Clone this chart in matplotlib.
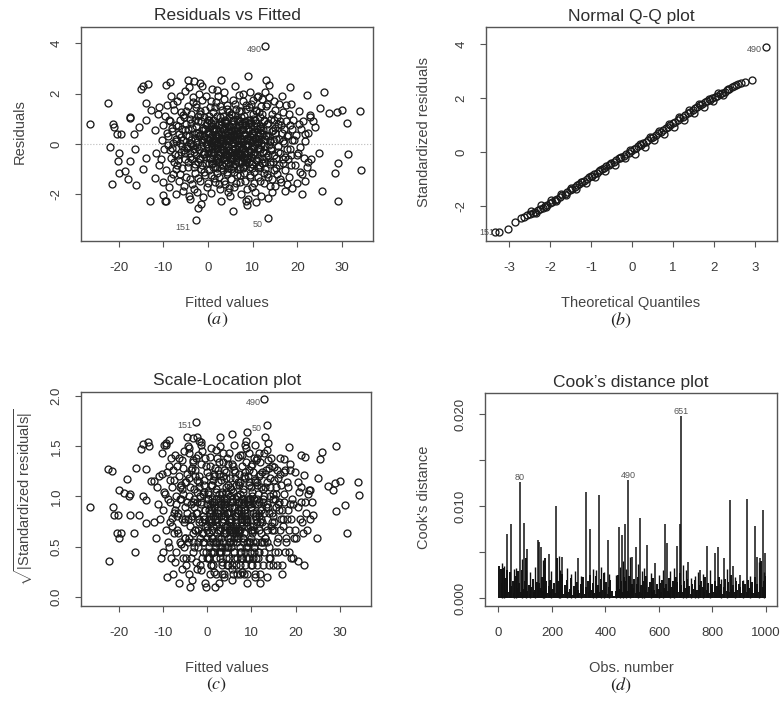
import numpy as np
import matplotlib

matplotlib.use("Agg")
import matplotlib.pyplot as plt

W, H = 782, 707

plt.rcParams.update(
    {
        "font.family": ["Liberation Sans", "DejaVu Sans"],
        "axes.unicode_minus": False,
        "mathtext.fontset": "custom",
        "mathtext.rm": "Liberation Sans",
        "mathtext.it": "Liberation Sans:italic",
        "axes.edgecolor": "#555555",
        "axes.linewidth": 1.0,
        "xtick.color": "#555555",
        "ytick.color": "#555555",
        "xtick.labelcolor": "#3a3a3a",
        "ytick.labelcolor": "#3a3a3a",
        "xtick.labelsize": 9.5,
        "ytick.labelsize": 9.5,
        "xtick.major.size": 4.3,
        "ytick.major.size": 4.3,
        "xtick.major.pad": 11,
        "ytick.major.pad": 9,
    }
)

# ---- residuals vs fitted: sparse points read one by one
fit_outer = [-26.4, -22.5, -22.1, -21.6, -21.3, -21.0, -20.2, -19.9, -20.4, -19.5,
             -19.9, -18.7, -17.6, -17.4, -17.5, -18.0, -16.3, -16.1, -16.5, -15.5,
             -15.0, -14.5, -13.9, -13.4, -13.1, -14.6, -13.9, -13.9, -12.7, -12.0,
             -10.1, -9.7, -9.4, -9.4, -8.6, -4.5, -3.2, -1.9, -4.1, -2.2,
             -1.5, 2.8, 9.0, 5.6, 8.6, 8.7, 13.1, 13.4, 15.0, 17.3,
             18.4, 18.8, 22.2, 21.1, 21.8, 22.9, 23.3, 24.0, 24.8, 25.1,
             25.5, 25.9, 27.2, 28.5, 28.9, 29.2, 29.2, 30.0, 31.1, 31.5,
             34.0, 34.4, 20.6]
res_outer = [0.81, 1.61, -0.13, -1.58, 0.81, 0.67, -0.67, -0.34, 0.40, 0.40,
             -1.14, -1.07, 1.01, 1.05, -0.67, -1.38, -0.20, -1.64, 0.40, 0.67,
             2.17, 2.31, 1.61, 2.38, -2.26, -1.00, -0.54, 0.94, 1.34, -1.34,
             -2.04, -2.28, -2.28, 2.35, 2.44, 2.55, 2.51, 2.42, -2.19, -2.55,
             -2.39, 2.55, 2.68, -2.64, -2.28, -2.42, 2.55, -2.15, -1.68, -1.88,
             2.24, -1.74, 1.95, -1.99, -1.48, 1.14, -1.14, 0.67, -0.34, 1.41,
             -1.88, 2.08, 1.21, -1.14, 1.28, -0.74, -2.26, 1.34, 0.83, -0.40,
             1.32, -1.03, -0.13]

# dense core, estimated column by column (one row per unit of fitted value)
fit_core = [
    [-11.9, -11.6, -11.3, -11.1],
    [-10.9, -10.6, -10.4, -10.2, -10.05],
    [-9.9, -9.7, -9.5, -9.3, -9.15, -9.05],
    [-8.95, -8.7, -8.5, -8.35, -8.2, -8.1, -8.02],
    [-7.95, -7.8, -7.6, -7.45, -7.3, -7.2, -7.1, -7.02],
    [-6.9, -6.75, -6.6, -6.45, -6.3, -6.2, -6.1, -6.02],
    [-5.95, -5.8, -5.7, -5.55, -5.4, -5.3, -5.2, -5.1, -5.02],
    [-4.95, -4.85, -4.7, -4.55, -4.45, -4.3, -4.2, -4.1, -4.05, -4.01],
    [-3.95, -3.85, -3.75, -3.6, -3.5, -3.4, -3.3, -3.2, -3.15, -3.1, -3.02],
    [-2.95, -2.9, -2.8, -2.7, -2.6, -2.5, -2.4, -2.3, -2.2, -2.15, -2.1, -2.03],
    [-1.95, -1.85, -1.8, -1.7, -1.6, -1.5, -1.4, -1.3, -1.25, -1.15, -1.1, -1.02],
    [-0.95, -0.9, -0.8, -0.7, -0.65, -0.55, -0.45, -0.4, -0.3, -0.2, -0.15, -0.1, -0.03],
    [0.05, 0.1, 0.2, 0.3, 0.35, 0.45, 0.55, 0.6, 0.7, 0.8, 0.85, 0.9, 0.98],
    [1.02, 1.1, 1.2, 1.25, 1.35, 1.45, 1.5, 1.6, 1.7, 1.75, 1.85, 1.9, 1.97],
    [2.05, 2.1, 2.2, 2.3, 2.35, 2.45, 2.5, 2.6, 2.7, 2.75, 2.85, 2.9, 2.97],
    [3.02, 3.1, 3.2, 3.25, 3.35, 3.45, 3.5, 3.6, 3.7, 3.75, 3.85, 3.9, 3.98],
    [4.02, 4.1, 4.15, 4.25, 4.3, 4.4, 4.5, 4.55, 4.65, 4.7, 4.8, 4.85, 4.9, 4.97],
    [5.02, 5.1, 5.15, 5.25, 5.3, 5.4, 5.5, 5.55, 5.65, 5.7, 5.8, 5.85, 5.9, 5.97],
    [6.02, 6.1, 6.15, 6.25, 6.3, 6.4, 6.5, 6.55, 6.65, 6.7, 6.8, 6.85, 6.9, 6.97],
    [7.02, 7.1, 7.15, 7.25, 7.3, 7.4, 7.5, 7.55, 7.65, 7.7, 7.8, 7.85, 7.9, 7.97],
    [8.02, 8.1, 8.2, 8.25, 8.35, 8.45, 8.5, 8.6, 8.7, 8.75, 8.85, 8.9, 8.98],
    [9.02, 9.1, 9.2, 9.25, 9.35, 9.45, 9.5, 9.6, 9.7, 9.75, 9.85, 9.9, 9.98],
    [10.05, 10.15, 10.2, 10.3, 10.4, 10.5, 10.55, 10.65, 10.75, 10.8, 10.9, 10.97],
    [11.05, 11.15, 11.2, 11.3, 11.4, 11.5, 11.55, 11.65, 11.75, 11.8, 11.9, 11.97],
    [12.05, 12.15, 12.25, 12.35, 12.45, 12.55, 12.65, 12.75, 12.85, 12.9, 12.97],
    [13.05, 13.15, 13.25, 13.4, 13.5, 13.6, 13.7, 13.8, 13.9, 13.97],
    [14.05, 14.2, 14.3, 14.45, 14.55, 14.7, 14.8, 14.9, 14.97],
    [15.05, 15.2, 15.35, 15.5, 15.6, 15.75, 15.85, 15.95],
    [16.1, 16.25, 16.4, 16.55, 16.7, 16.85, 16.95],
    [17.1, 17.3, 17.45, 17.6, 17.8, 17.95],
    [18.1, 18.3, 18.55, 18.7, 18.9],
    [19.15, 19.4, 19.65, 19.9],
    [20.1, 20.4, 20.7, 20.9],
    [21.2, 21.5, 21.8],
    [22.1, 22.5, 22.8],
    [23.2, 23.6],
]
res_core = [
    [0.55, -0.35, 1.2, -0.85],
    [1.45, -0.6, 0.15, -1.5, 0.75],
    [-0.2, 1.1, -1.05, 0.45, 1.55, -0.04],
    [0.3, -1.7, 0.9, -0.55, 1.9, -0.15, 0.62],
    [-1.2, 0.05, 1.35, -0.4, 0.75, -2.0, 0.2, -0.85],
    [1.7, -0.65, 0.4, -1.45, 0.02, 0.95, -0.3, 1.25],
    [-0.95, 0.6, -1.85, 0.15, 1.05, -0.25, 2.1, -0.6, 0.35],
    [0.8, -1.3, -0.1, 1.5, -0.7, 0.3, -2.05, 1.0, -0.35, 0.05],
    [-0.5, 1.2, 0.15, -1.6, 0.65, -0.03, 1.85, -0.9, 0.4, -0.2, 0.95],
    [0.25, -1.15, 1.6, -0.45, 0.7, -1.9, 0.08, 1.1, -0.7, 0.45, -0.25, 2.0],
    [-0.6, 1.3, -1.45, 0.35, -0.1, 0.9, -0.85, 1.75, 0.15, -2.1, 0.55, -0.3],
    [1.05, -0.4, 0.3, -1.25, 0.6, -0.02, 1.9, -0.75, 0.2, -1.7, 0.85, -0.15, 0.45],
    [-0.35, 0.95, -1.05, 0.15, 1.45, -0.55, 0.05, -1.95, 0.7, -0.2, 2.2, -0.8, 0.35],
    [0.55, -0.9, 1.25, -0.3, 0.1, -1.5, 0.8, -0.06, 1.65, -0.65, 0.3, -1.15, 2.15],
    [-0.15, 1.1, -0.7, 0.4, -1.3, 0.75, -0.45, 1.5, 0.02, -1.8, 0.25, 0.9, -0.95],
    [0.65, -0.2, 1.35, -1.05, 0.12, -0.55, 1.8, -0.3, 0.9, -1.6, 0.4, -0.04, -0.8],
    [-0.45, 0.85, -1.2, 0.2, 1.55, -0.7, 0.5, -0.1, -1.75, 1.05, -0.35, 0.3, -2.05, 0.7],
    [0.15, -0.6, 1.2, -1.4, 0.55, -0.25, 1.75, -0.9, 0.03, 0.95, -0.45, -1.1, 0.4, 2.3],
    [-0.8, 0.35, -0.2, 1.4, -1.55, 0.65, -0.5, 0.1, 1.0, -1.0, -0.05, 1.95, -0.35, 0.75],
    [0.45, -1.25, 0.9, -0.4, 0.2, -2.0, 1.3, -0.7, 0.6, -0.15, 1.7, -0.95, 0.06, -0.55],
    [-0.3, 1.1, -0.85, 0.4, -1.45, 0.75, -0.1, 1.55, -0.6, 0.15, -2.2, 0.95, -0.02],
    [0.6, -0.7, 1.45, -0.25, 0.3, -1.3, 2.05, -0.5, 0.85, -0.95, 0.1, -1.7, 1.2],
    [-0.4, 1.75, -1.1, 0.5, -0.15, 0.95, -1.9, 0.25, 1.3, -0.65, 0.04, 1.85],
    [0.7, -0.55, 1.9, -1.3, 0.2, -0.85, 1.05, -0.2, 0.45, -2.05, 1.5, -0.05],
    [-0.75, 1.2, -0.3, 0.55, -1.55, 0.9, -0.1, 2.05, -1.0, 0.3, -0.5],
    [0.35, -1.2, 1.6, -0.45, 0.85, -0.04, 2.35, -0.8, 0.15, -1.65],
    [-0.25, 1.0, -1.4, 0.5, -0.7, 1.7, 0.1, -1.05, 0.65],
    [1.35, -0.55, 0.2, -1.2, 0.8, -0.1, 1.6, -0.85],
    [-0.35, 0.9, -1.5, 0.45, 1.25, -0.75, 0.05],
    [0.6, -1.05, 1.55, -0.2, 0.3, -0.6],
    [-1.3, 0.75, -0.45, 1.6, 0.15],
    [0.95, -0.85, 0.35, -1.55],
    [-0.35, 1.3, -1.1, 0.6],
    [0.9, -0.55, 0.1],
    [-0.9, 0.45, 1.05],
    [-0.6, 0.9],
]

# second pass over the dark middle of the cloud (two units of fitted value per row)
fit_mid = [
    [-8.85, -8.6, -8.3, -8.05, -7.8, -7.55, -7.3, -7.1],
    [-6.85, -6.65, -6.4, -6.2, -6.0, -5.8, -5.6, -5.45, -5.25, -5.1],
    [-4.9, -4.75, -4.6, -4.4, -4.25, -4.1, -3.9, -3.75, -3.55, -3.4, -3.25, -3.1],
    [-2.9, -2.75, -2.65, -2.45, -2.35, -2.2, -2.05, -1.9, -1.75, -1.6, -1.45, -1.35, -1.2, -1.05],
    [-0.9, -0.8, -0.65, -0.5, -0.4, -0.25, -0.1, 0.05, 0.15, 0.3, 0.4, 0.55, 0.65, 0.75, 0.85, 0.95],
    [1.05, 1.15, 1.3, 1.4, 1.55, 1.65, 1.8, 1.9, 2.05, 2.15, 2.25, 2.4, 2.5, 2.6, 2.7, 2.8, 2.9, 2.95],
    [3.05, 3.15, 3.25, 3.35, 3.45, 3.55, 3.65, 3.75, 3.85, 3.95,
     4.05, 4.15, 4.25, 4.35, 4.45, 4.55, 4.65, 4.75, 4.85, 4.95],
    [5.05, 5.15, 5.25, 5.35, 5.45, 5.55, 5.65, 5.75, 5.85, 5.95,
     6.05, 6.15, 6.25, 6.35, 6.45, 6.55, 6.65, 6.75, 6.85, 6.95],
    [7.05, 7.15, 7.25, 7.35, 7.45, 7.55, 7.65, 7.75, 7.85, 7.95,
     8.05, 8.15, 8.25, 8.35, 8.45, 8.55, 8.65, 8.75, 8.85, 8.95],
    [9.05, 9.15, 9.3, 9.4, 9.55, 9.65, 9.8, 9.9, 10.05, 10.15,
     10.25, 10.4, 10.5, 10.6, 10.7, 10.8, 10.9, 10.95],
    [11.1, 11.25, 11.35, 11.5, 11.6, 11.75, 11.85, 12.0, 12.1, 12.25,
     12.35, 12.5, 12.6, 12.75, 12.85, 12.95],
    [13.1, 13.25, 13.4, 13.55, 13.7, 13.85, 14.0, 14.15, 14.3, 14.45, 14.6, 14.75, 14.9],
    [15.1, 15.3, 15.5, 15.7, 15.9, 16.1, 16.3, 16.5, 16.7, 16.9],
    [17.15, 17.4, 17.65, 17.9, 18.15, 18.4, 18.65, 18.9],
    [19.3, 19.9, 20.5, 21.1, 21.7, 22.4],
]
res_mid = [
    [0.95, -0.25, -1.35, 0.5, 1.6, -0.7, 0.12, -1.0],
    [-0.45, 0.7, 1.9, -1.2, 0.28, -0.08, 1.15, -1.65, 0.55, -0.35],
    [1.3, -0.15, -0.9, 0.6, 2.25, -1.4, 0.01, 0.85, -0.6, 1.65, -0.3, -1.8],
    [-0.8, 0.45, 1.45, -0.12, -1.35, 0.9, 0.3, -0.55, 1.2, -1.0, 0.07, 2.3, -0.4, 0.65],
    [0.2, -1.1, 1.35, -0.5, 0.75, -0.01, -1.55, 0.5, 1.1, -0.75, 0.25, -0.3, 1.7, -1.25, 0.6, -0.1],
    [-0.45, 0.95, 0.2, -1.35, 1.45, -0.2, 0.6, -0.95, 0.05, 1.9, -0.6, 0.35, -1.6, 1.05, -0.3, 0.75, -2.25, 0.15],
    [0.35, -0.85, 1.1, -0.25, 0.55, -1.45, 2.05, -0.05, 0.85, -0.65,
     0.25, 1.4, -1.1, -0.4, 0.7, -1.9, 0.1, 1.25, -0.55, 0.45],
    [-0.3, 0.5, -1.0, 1.15, -0.6, 0.08, 0.8, -1.7, 0.3, -0.15,
     1.6, -0.8, 0.45, -0.45, -1.25, 0.95, 0.15, -0.35, 1.3, -0.7],
    [0.75, -0.45, -1.5, 0.25, 1.05, -0.2, 0.55, -0.9, 2.0, -0.5,
     0.35, -1.15, 0.9, -0.05, 1.4, -0.65, 0.2, -1.8, 0.6, -0.3],
    [-0.55, 0.85, 0.15, -1.25, 1.6, -0.3, 0.45, -0.8, 1.0, -0.1,
     -1.55, 0.7, 0.25, -0.45, 1.35, -2.3, 0.05, 0.6],
    [0.3, -0.95, 1.25, -0.15, 0.65, -1.45, 0.02, 1.8, -0.6, 0.4,
     -0.3, 0.95, -1.15, 0.2, -0.7, 1.5],
    [-0.35, 0.8, -1.3, 0.3, 1.85, -0.7, 0.1, -0.15, 1.2, -1.9, 0.55, -0.45, 0.95],
    [0.45, -0.95, 1.05, -0.3, 0.2, -1.4, 0.75, 1.9, -0.6, 0.1],
    [-0.5, 0.9, -1.6, 0.35, 1.2, -0.2, -0.85, 0.6],
    [0.15, -0.45, 0.8, -1.2, 0.4, -0.7],
]

# blackest patch, fitted 0..12 and residual within +-1
fit_dense = [
    [0.1, 0.3, 0.5, 0.7, 0.9, 1.1, 1.3, 1.5, 1.7, 1.9, 0.2, 0.8, 1.4, 1.8],
    [2.1, 2.3, 2.5, 2.7, 2.9, 3.1, 3.3, 3.5, 3.7, 3.9, 2.4, 2.8, 3.4, 3.8],
    [4.1, 4.3, 4.5, 4.7, 4.9, 5.1, 5.3, 5.5, 5.7, 5.9, 4.4, 4.8, 5.4, 5.8],
    [6.1, 6.3, 6.5, 6.7, 6.9, 7.1, 7.3, 7.5, 7.7, 7.9, 6.4, 6.8, 7.4, 7.8],
    [8.1, 8.3, 8.5, 8.7, 8.9, 9.1, 9.3, 9.5, 9.7, 9.9, 8.4, 8.8, 9.4, 9.8],
    [10.1, 10.4, 10.7, 11.0, 11.3, 11.6, 11.9, 10.5, 11.1, 11.7],
]
res_dense = [
    [-0.15, 0.4, -0.6, 0.85, 0.1, -0.35, 0.65, -0.9, 0.25, -0.5, 0.95, -0.75, 0.5, 0.01],
    [0.3, -0.55, 0.8, -0.2, 0.45, -0.85, 0.05, 0.6, -0.4, 0.95, -0.7, 0.2, -0.1, 0.7],
    [-0.5, 0.15, -0.25, 0.7, -0.8, 0.35, -0.6, 0.9, -0.1, 0.5, -0.95, 0.25, -0.45, 0.05],
    [0.2, -0.65, 0.55, -0.3, 0.9, -0.9, 0.1, -0.45, 0.75, -0.15, 0.4, -0.7, -0.05, 0.6],
    [-0.35, 0.75, -0.7, 0.25, -0.05, 0.5, -0.9, 0.95, -0.2, 0.35, 0.6, -0.55, 0.15, -0.8],
    [0.45, -0.3, 0.85, -0.65, 0.1, -0.9, 0.55, 0.2, -0.15, 0.7],
]

# flagged observations
id_names = ["490", "151", "50"]
id_fit = [12.8, -2.6, 13.5]
id_res = [3.89, -3.02, -2.93]

# ---- normal Q-Q (theoretical quantile, standardized residual)
qq_x = [-3.33, -3.24, -3.02, -2.86, -2.71, -2.63, -2.55,
        -2.48, -2.42, -2.36, -2.30, -2.24, -2.18, -2.12, -2.06, -2.00, -1.94,
        -1.88, -1.82, -1.76, -1.70, -1.64, -1.58, -1.52, -1.46, -1.40, -1.34,
        -1.28, -1.22, -1.16, -1.10, -1.04, -0.98, -0.92, -0.86, -0.80, -0.74,
        -0.68, -0.62, -0.56, -0.50, -0.44, -0.38, -0.32, -0.26, -0.20, -0.14,
        -0.08, -0.02, 0.04, 0.10, 0.16, 0.22, 0.28, 0.34, 0.40, 0.46,
        0.52, 0.58, 0.64, 0.70, 0.76, 0.82, 0.88, 0.94, 1.00, 1.06,
        1.12, 1.18, 1.24, 1.30, 1.36, 1.42, 1.48, 1.54, 1.60, 1.66,
        1.72, 1.78, 1.84, 1.90, 1.96, 2.02, 2.08, 2.14, 2.20, 2.26,
        2.32, 2.38, 2.44, 2.50,
        2.55, 2.59, 2.66, 2.76, 2.94, 3.26]
qq_y = [-2.96, -2.96, -2.88, -2.59, -2.47, -2.40, -2.35,
        -2.31, -2.26, -2.22, -2.17, -2.12, -2.07, -2.01, -1.96, -1.91, -1.85,
        -1.79, -1.73, -1.67, -1.61, -1.55, -1.48, -1.42, -1.36, -1.30, -1.24,
        -1.18, -1.12, -1.06, -1.00, -0.94, -0.88, -0.82, -0.77, -0.71, -0.65,
        -0.59, -0.53, -0.47, -0.41, -0.36, -0.30, -0.24, -0.19, -0.13, -0.07,
        -0.02, 0.04, 0.10, 0.15, 0.21, 0.27, 0.33, 0.39, 0.45, 0.51,
        0.57, 0.63, 0.69, 0.75, 0.81, 0.88, 0.94, 1.00, 1.07, 1.13,
        1.19, 1.25, 1.31, 1.38, 1.44, 1.50, 1.56, 1.62, 1.68, 1.74,
        1.80, 1.85, 1.90, 1.95, 2.00, 2.05, 2.10, 2.15, 2.20, 2.25,
        2.30, 2.35, 2.40, 2.45,
        2.48, 2.53, 2.56, 2.59, 2.69, 3.89]
# band is a few circles thick: points just above / below the centre line
qq_x2 = [-2.45, -2.33, -2.21, -2.09, -1.97, -1.85, -1.73, -1.61, -1.49, -1.37,
         -1.25, -1.13, -1.01, -0.89, -0.77, -0.65, -0.53, -0.41, -0.29, -0.17,
         -0.05, 0.07, 0.19, 0.31, 0.43, 0.55, 0.67, 0.79, 0.91, 1.03,
         1.15, 1.27, 1.39, 1.51, 1.63, 1.75, 1.87, 1.99, 2.11, 2.23, 2.35]
qq_y2 = [-2.21, -2.27, -1.98, -2.03, -1.78, -1.82, -1.58, -1.61, -1.35, -1.39,
         -1.12, -1.16, -0.90, -0.92, -0.67, -0.70, -0.44, -0.47, -0.21, -0.23,
         0.08, -0.06, 0.31, 0.19, 0.55, 0.43, 0.79, 0.68, 1.05, 0.93,
         1.30, 1.18, 1.55, 1.44, 1.78, 1.67, 1.98, 1.90, 2.19, 2.12, 2.36]

# ---- Cook's distance (x 1e-3)
cook_base = [
    3.5, 3.2, 1.6, 3.3, 0.9, 2.2, 3.1, 0.6, 2.8, 1.3, 1.9, 0.5, 2.4, 1.1, 2.9, 1.6, 0.6, 3.0, 1.0, 1.8,
    4.4, 0.8, 1.4, 0.4, 1.2, 2.1, 0.6, 0.9, 1.7, 0.3, 1.6, 1.1, 2.3, 0.8, 4.3, 1.8, 0.5, 1.3, 2.0, 0.7,
    1.0, 1.6, 0.5, 4.4, 1.9, 0.7, 1.2, 2.6, 0.4, 1.4, 0.8, 2.0, 0.6, 1.0, 2.2, 0.3, 1.3, 0.7, 1.7, 0.9,
    0.5, 1.5, 1.0, 2.3, 0.4, 1.2, 1.9, 0.7, 2.5, 0.9, 1.6, 0.5, 2.4, 1.1, 1.4, 0.6, 2.1, 0.9, 2.7, 0.7,
    1.7, 0.4, 1.2, 2.0, 0.8, 0.2, 0.2, 0.8, 1.4, 2.5, 1.0, 1.9, 0.6, 2.3, 1.2, 1.8, 0.8, 2.4, 0.5, 1.5,
    1.1, 2.1, 0.5, 1.5, 2.3, 0.7, 1.4, 0.5, 1.8, 0.9, 2.4, 0.6, 1.2, 1.7, 0.7, 2.2, 0.9, 0.4, 1.5, 1.0,
    1.6, 0.7, 2.0, 1.1, 0.5, 1.5, 0.8, 2.2, 0.5, 1.2, 1.9, 0.9, 2.3, 1.7, 0.7, 2.7, 1.4, 0.6, 1.8, 1.1,
    2.1, 0.8, 1.3, 0.4, 1.5, 1.0, 2.0, 0.6, 0.9, 1.4, 0.5, 1.9, 1.2, 0.7, 2.3, 0.9, 1.6, 0.5, 1.1, 1.5,
    0.7, 1.8, 0.5, 1.3, 2.3, 0.9, 1.5, 0.4, 1.2, 2.1, 0.8, 1.7, 0.6, 2.5, 1.0, 1.4, 0.7, 1.9, 0.9, 1.5,
    1.2, 0.5, 1.8, 0.9, 1.5, 0.6, 2.0, 1.1, 0.7, 1.7, 0.5, 2.3, 1.0, 1.5, 0.7, 2.2, 4.0, 1.2, 1.9, 2.4,
]
cook_base_obs = np.arange(3, 1000, 5)
mid_obs = [12, 22, 58, 66, 88, 102, 118, 135, 165, 172, 198, 225, 232, 255, 270,
           285, 310, 352, 365, 385, 395, 415, 440, 455, 467, 478, 492, 520, 538, 545,
           570, 600, 615, 640, 655, 690, 700, 720, 735, 745, 765, 790, 830, 855, 885,
           915, 940, 975, 992]
mid_d = [3.8, 3.5, 3.2, 3.3, 4.2, 3.0, 2.8, 3.4, 4.1, 3.6, 2.9, 4.6, 3.1, 3.3, 2.6,
         2.9, 2.4, 3.2, 3.0, 3.4, 2.8, 2.6, 2.5, 3.4, 4.0, 3.2, 4.5, 3.7, 2.9, 3.3,
         2.7, 2.5, 3.1, 2.9, 3.3, 3.6, 3.0, 2.2, 2.4, 2.8, 2.6, 3.0, 2.1, 3.2, 2.3,
         2.0, 2.4, 3.9, 2.8]
spike_obs = [33, 46, 80, 95, 108, 147, 152, 158, 190, 217, 238, 296, 328, 343, 377,
             409, 449, 461, 473, 486, 500, 514, 529, 556, 587, 623, 630, 667, 678, 682,
             709, 753, 779, 808, 819, 844, 864, 876, 903, 928, 960, 968, 979, 987, 996]
spike_d = [7.0, 8.0, 12.6, 8.2, 5.3, 6.3, 6.1, 5.6, 4.8, 10.0, 4.5, 4.3, 11.5, 7.5, 11.2,
           6.3, 7.7, 6.8, 8.0, 12.8, 4.5, 5.5, 8.7, 5.8, 3.8, 8.0, 6.0, 5.7, 8.1, 19.8,
           3.9, 3.1, 5.7, 4.9, 5.6, 4.3, 10.7, 3.5, 2.5, 10.8, 7.8, 4.5, 4.3, 9.6, 4.9]
cook_ids = ["80", "490", "651"]
cook_id_obs = [80, 486, 682]
cook_id_d = [12.6, 12.8, 19.8]

fitted = np.array(fit_outer + sum(fit_core, []) + sum(fit_mid, []) + sum(fit_dense, []) + id_fit)
resid = np.array(res_outer + sum(res_core, []) + sum(res_mid, []) + sum(res_dense, []) + id_res)

MK = dict(ls="none", marker="o", mfc="none", mec="#1a1a1a", ms=5.0, mew=0.95)
ID_TXT = dict(fontsize=6.5, color="#555555", ha="right", va="center")

fig = plt.figure(figsize=(W / 100, H / 100), dpi=100)


def px_axes(left, top, right, bottom):
    return fig.add_axes([left / W, 1 - bottom / H, (right - left) / W, (bottom - top) / H])


def ftext(x, y, s, **kw):
    kw.setdefault("ha", "center")
    kw.setdefault("va", "center")
    fig.text(x / W, 1 - y / H, s, **kw)


def rot_yticks(ax):
    for lab in ax.get_yticklabels():
        lab.set_rotation(90)
        lab.set_va("center")


def decorate(cx, top, bottom, left, title, xlabel, ylabel, letter, ylab_dx=61):
    ftext(cx, top - 11, title, fontsize=12.5, color="#2e2e2e")
    ftext(cx, bottom + 62, xlabel, fontsize=10.5, color="#444444")
    ftext(left - ylab_dx, (top + bottom) / 2 - 2, ylabel, fontsize=10.5,
          color="#444444", rotation=90)
    ftext(cx - 10, bottom + 79, letter, fontsize=13, color="#222222",
          math_fontfamily="stix")


# (a) residuals vs fitted
ax = px_axes(81, 27, 373, 241)
ax.axhline(0, color="#bbbbbb", lw=0.8, ls=":")
ax.plot(fitted, resid, **MK)
ax.set_xlim(-28.5, 37.0)
ax.set_ylim(-3.85, 4.64)
ax.set_xticks([-20, -10, 0, 10, 20, 30])
ax.set_yticks([-2, 0, 2, 4])
rot_yticks(ax)
for s, x, y in zip(id_names, [12.1, -3.9, 12.3], [3.76, -3.33, -3.19]):
    ax.text(x, y, s, **ID_TXT)
decorate(227, 27, 241, 81, "Residuals vs Fitted", "Fitted values", "Residuals", r"$(a)$")

# (b) normal Q-Q
ax = px_axes(486, 27, 777, 241)
ax.plot(qq_x, qq_y, **MK)
ax.plot(qq_x2, qq_y2, **MK)
ax.set_xlim(-3.56, 3.54)
ax.set_ylim(-3.31, 4.65)
ax.set_xticks([-3, -2, -1, 0, 1, 2, 3])
ax.set_yticks([-2, 0, 2, 4])
rot_yticks(ax)
ax.text(3.18, 3.82, "490", **ID_TXT)
ax.text(-3.36, -2.99, "151", **ID_TXT, clip_on=False)
decorate(631, 27, 241, 486, "Normal Q-Q plot", "Theoretical Quantiles",
         "Standardized residuals", r"$(b)$", ylab_dx=62)

# (c) scale-location
ax = px_axes(81, 392, 371, 606)
ax.plot(fitted, np.sqrt(np.abs(resid)), **MK)
ax.set_xlim(-28.5, 37.0)
ax.set_ylim(-0.09, 2.04)
ax.set_xticks([-20, -10, 0, 10, 20, 30])
ax.set_yticks([0.0, 0.5, 1.0, 1.5, 2.0])
ax.set_yticklabels(["0.0", "0.5", "1.0", "1.5", "2.0"])
rot_yticks(ax)
for s, x, y in zip(id_names, [12.1, -3.4, 12.4], [1.94, 1.705, 1.68]):
    ax.text(x, y, s, **ID_TXT)
decorate(227, 392, 606, 81, "Scale-Location plot", "Fitted values",
         r"$\sqrt{|\mathrm{Standardized\ residuals}|}$", r"$(c)$", ylab_dx=57)

# (d) Cook's distance
ax = px_axes(485, 393, 777, 606)
ax.vlines(cook_base_obs, 0, np.array(cook_base) * 1e-3, color="#111111", lw=1.4)
ax.vlines(mid_obs, 0, np.array(mid_d) * 1e-3, color="#111111", lw=1.0)
ax.vlines(spike_obs, 0, np.array(spike_d) * 1e-3, color="#111111", lw=1.1)
ax.set_xlim(-50, 1041)
ax.set_ylim(-0.00087, 0.0223)
ax.set_xticks([0, 200, 400, 600, 800, 1000])
ax.set_yticks([0.0, 0.005, 0.010, 0.015, 0.020])
ax.set_yticklabels(["0.000", "", "0.010", "", "0.020"])
rot_yticks(ax)
for s, x, y in zip(cook_ids, cook_id_obs, cook_id_d):
    ax.text(x, y * 1e-3 + 0.0005, s, fontsize=6.5, color="#555555", ha="center", va="center")
decorate(631, 393, 606, 485, "Cook\u2019s distance plot", "Obs. number",
         "Cook's distance", r"$(d)$")

fig.savefig("out.png", dpi=100)
